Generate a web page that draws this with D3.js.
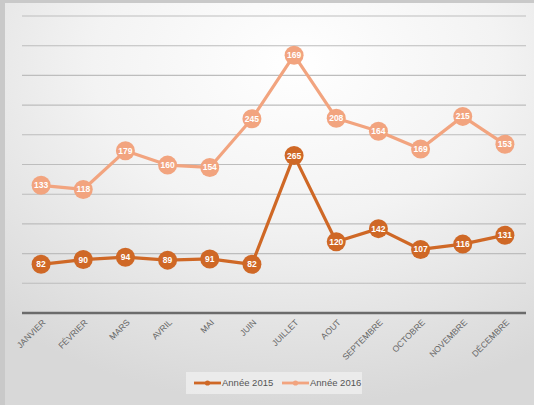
<!DOCTYPE html>
<html>
<head>
<meta charset="utf-8">
<script src="https://cdn.jsdelivr.net/npm/d3@7"></script>
<style>
  html, body { margin: 0; padding: 0; background: #d4d4d4; }
  svg { display: block; }
  text { font-family: "Liberation Sans Narrow", "Liberation Sans", "DejaVu Sans Condensed", sans-serif; }
</style>
</head>
<body>
<svg id="chart" width="534" height="405"></svg>
<script>
// Monthly values per year; 2016 is drawn stacked on top of 2015
const months = ["JANVIER", "FÉVRIER", "MARS", "AVRIL", "MAI", "JUIN",
                "JUILLET", "AOUT", "SEPTEMBRE", "OCTOBRE", "NOVEMBRE", "DÉCEMBRE"];
const values2015 = [82, 90, 94, 89, 91, 82, 265, 120, 142, 107, 116, 131];
const values2016 = [133, 118, 179, 160, 154, 245, 169, 208, 164, 169, 215, 153];
const seriesNames = ["Année 2015", "Année 2016"];
const yTicks = [0, 50, 100, 150, 200, 250, 300, 350, 400, 450, 500];

const W = 534, H = 405;
const plot = { left: 20, right: 526, top: 16, bottom: 313 };
const colors = ["#cf6826", "#f2a47f"];

const svg = d3.select("#chart");
const defs = svg.append("defs");

// soft light background with a brighter centre
const bg = defs.append("radialGradient").attr("id", "bgGrad")
  .attr("cx", "0.55").attr("cy", "0.15").attr("r", "0.85");
bg.append("stop").attr("offset", "0").attr("stop-color", "#ffffff");
bg.append("stop").attr("offset", "0.45").attr("stop-color", "#f3f3f3");
bg.append("stop").attr("offset", "1").attr("stop-color", "#d8d8d8");

svg.append("rect").attr("x", 0).attr("y", 0).attr("width", W).attr("height", H).attr("fill", "#c9c9c9");
svg.append("rect").attr("x", 5).attr("y", 3).attr("width", W - 5).attr("height", H - 3).attr("fill", "url(#bgGrad)");

const x = d3.scaleBand().domain(months).range([plot.left, plot.right]);
const y = d3.scaleLinear().domain([0, 500]).range([plot.bottom, plot.top]);
const cx = m => x(m) + x.bandwidth() / 2;

// horizontal gridlines
svg.append("g").selectAll("line").data(yTicks.filter(t => t > 0)).join("line")
  .attr("x1", plot.left + 2).attr("x2", plot.right)
  .attr("y1", d => y(d)).attr("y2", d => y(d))
  .attr("stroke", "#bdbdbd").attr("stroke-width", 1.1);

// category axis
const xAxis = svg.append("g").attr("transform", `translate(0,${plot.bottom})`)
  .call(d3.axisBottom(x).tickSize(0).tickPadding(0));
xAxis.select(".domain").attr("stroke", "#6b6b6b").attr("stroke-width", 2.6)
  .attr("d", `M${plot.left + 2},0H${plot.right}`);
xAxis.selectAll("text")
  .attr("fill", "#666").attr("font-size", 8.6)
  .attr("text-anchor", "end").attr("dy", 0)
  .attr("transform", "translate(5,10) rotate(-45)");

// series data: 2015 raw, 2016 cumulative
const s2015 = months.map((m, i) => ({ m, v: values2015[i], total: values2015[i] }));
const s2016 = months.map((m, i) => ({ m, v: values2016[i], total: values2015[i] + values2016[i] }));
const series = [s2015, s2016];

const line = d3.line().x(d => cx(d.m)).y(d => y(d.total));

series.slice().reverse().forEach((s, ri) => {
  const i = series.length - 1 - ri;
  const g = svg.append("g");
  g.append("path").datum(s).attr("d", line)
    .attr("fill", "none").attr("stroke", colors[i]).attr("stroke-width", 3.2)
    .attr("stroke-linejoin", "round");
  g.selectAll("circle").data(s).join("circle")
    .attr("cx", d => cx(d.m)).attr("cy", d => y(d.total)).attr("r", 9.5)
    .attr("fill", colors[i]);
  g.selectAll("text").data(s).join("text")
    .attr("x", d => cx(d.m)).attr("y", d => y(d.total)).attr("dy", "0.35em")
    .attr("text-anchor", "middle").attr("fill", "#fff")
    .attr("font-size", 8.5).attr("font-weight", "bold")
    .text(d => d.v);
});

// legend
const lg = svg.append("g").attr("transform", "translate(186,372)");
lg.append("rect").attr("width", 176).attr("height", 22).attr("fill", "#efefef").attr("opacity", 0.8);
seriesNames.forEach((name, i) => {
  const ox = 8 + i * 88;
  lg.append("line").attr("x1", ox).attr("x2", ox + 27).attr("y1", 11).attr("y2", 11)
    .attr("stroke", colors[i]).attr("stroke-width", 2.8);
  lg.append("circle").attr("cx", ox + 13.5).attr("cy", 11).attr("r", 2.6).attr("fill", colors[i]);
  lg.append("text").attr("x", ox + 28).attr("y", 11).attr("dy", "0.35em")
    .attr("font-size", 9.5).attr("fill", "#555").text(name);
});
</script>
</body>
</html>
